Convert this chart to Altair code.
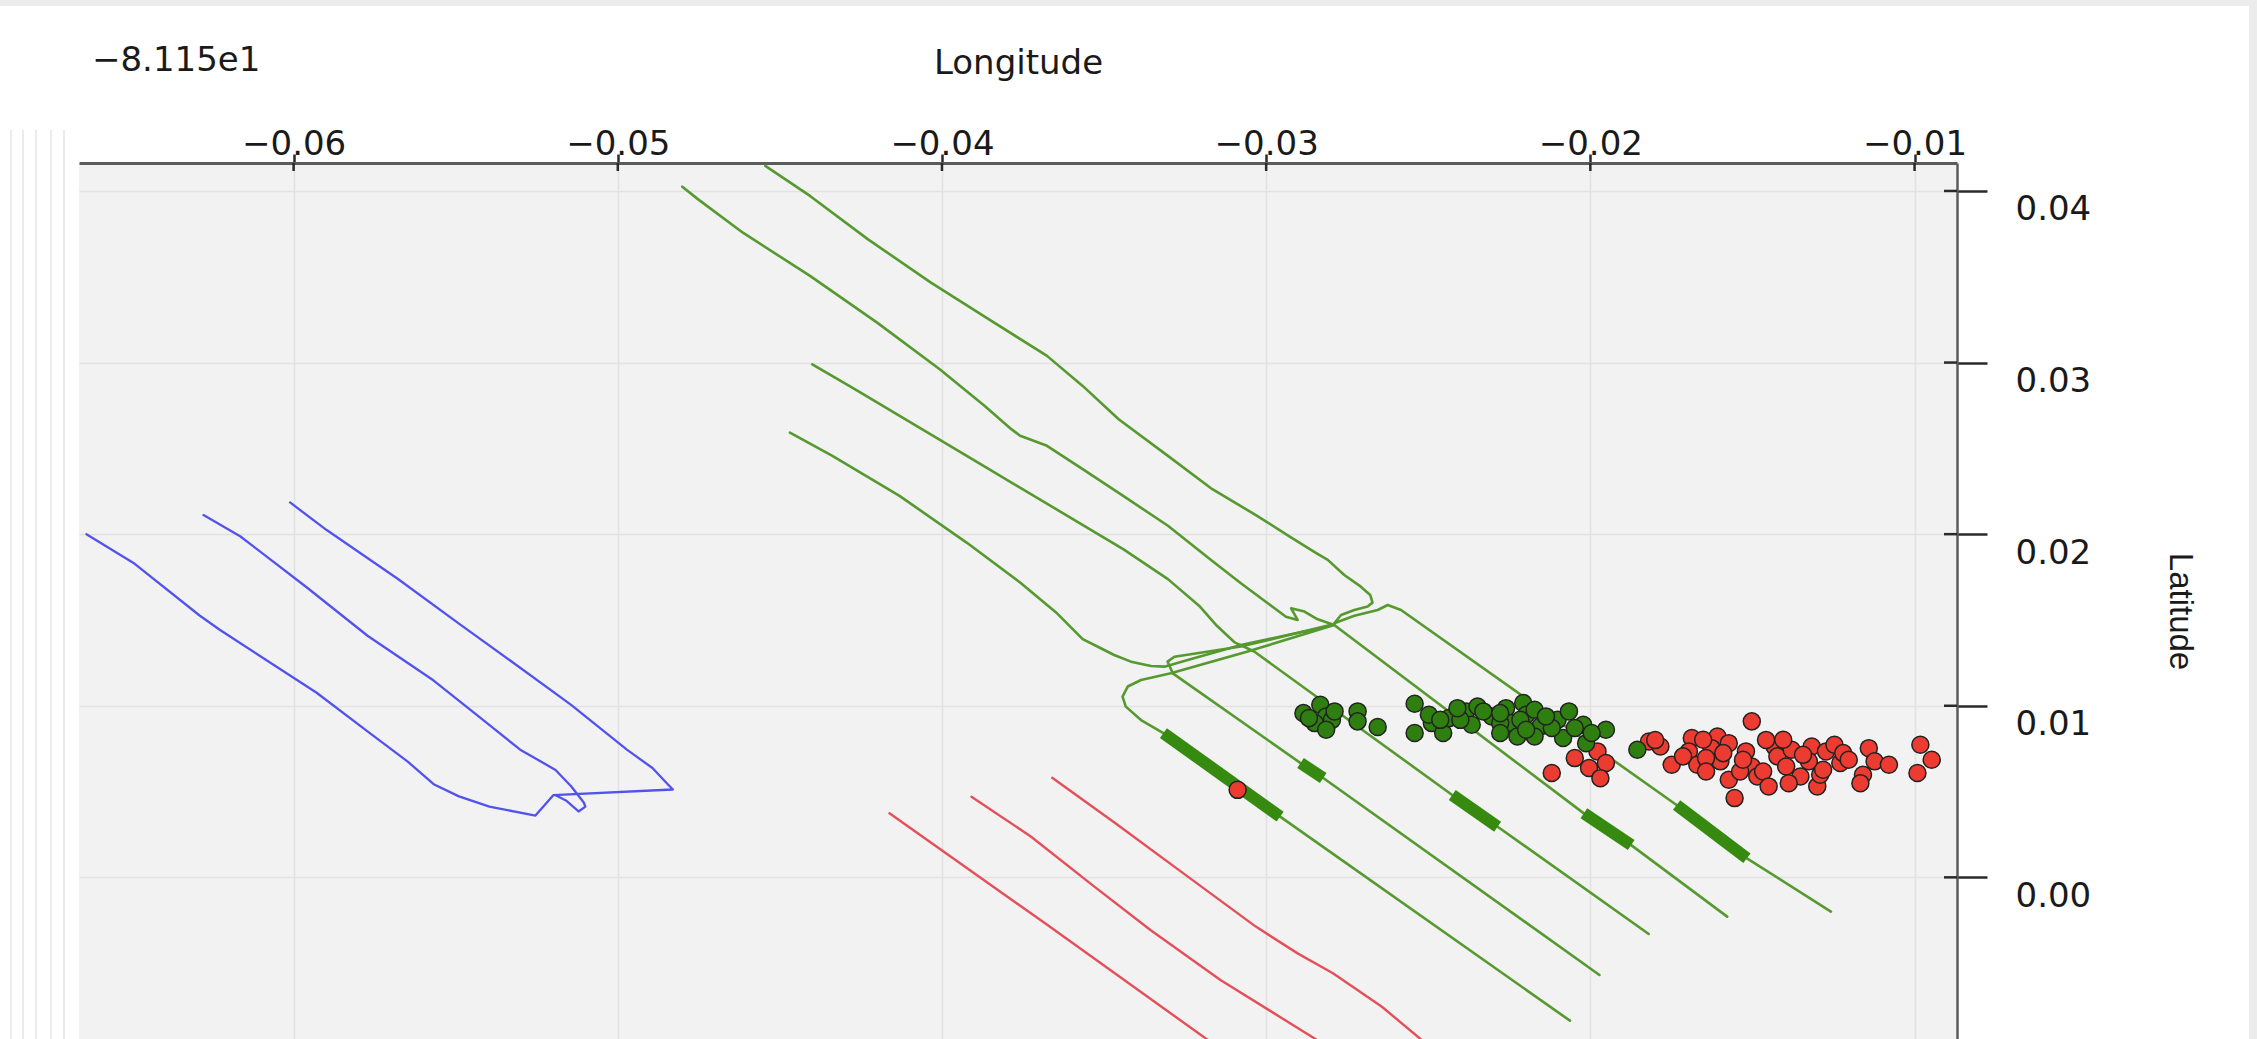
import altair as alt
import pandas as pd

# Longitudes are stored as offsets from -81.15 (shown as the "−8.115e1" offset label);
# latitudes are stored as displayed on the right axis.
OFFSET_LABEL = "\u22128.115e1"
X_TICKS = [-0.06, -0.05, -0.04, -0.03, -0.02, -0.01]
Y_TICKS = [0.00, 0.01, 0.02, 0.03, 0.04]

# --- blue tracks ---
blue_a_lon = [-0.06639, -0.06495, -0.06290, -0.06228, -0.06055, -0.05929, -0.05772, -0.05647,
              -0.05568, -0.05490, -0.05396, -0.05254, -0.05199, -0.04830, -0.04846, -0.04893,
              -0.04972, -0.05144, -0.05333, -0.05490, -0.05678, -0.05898, -0.06011]
blue_a_lat = [0.02000, 0.01834, 0.01526, 0.01443, 0.01230, 0.01076, 0.00851, 0.00673,
              0.00543, 0.00472, 0.00412, 0.00360, 0.00479, 0.00512, 0.00543, 0.00637,
              0.00744, 0.01005, 0.01265, 0.01479, 0.01739, 0.02024, 0.02185]
blue_b_lon = [-0.06278, -0.06165, -0.05961, -0.05772, -0.05568, -0.05411, -0.05301, -0.05192,
              -0.05144, -0.05105, -0.05100, -0.05121, -0.05160, -0.05192]
blue_b_lat = [0.02111, 0.01988, 0.01692, 0.01408, 0.01147, 0.00910, 0.00744, 0.00626,
              0.00531, 0.00436, 0.00412, 0.00384, 0.00448, 0.00479]

# --- red tracks ---
red_a_lon = [-0.04162, -0.03682, -0.03184, -0.03080]
red_a_lat = [0.00373, -0.00268, -0.00942, -0.01080]
red_b_lon = [-0.03909, -0.03725, -0.03530, -0.03357, -0.03141, -0.02848, -0.02760]
red_b_lat = [0.00470, 0.00237, -0.00054, -0.00307, -0.00598, -0.00942, -0.01060]
red_c_lon = [-0.03660, -0.03465, -0.03227, -0.03032, -0.02903, -0.02794, -0.02643, -0.02524, -0.02450]
red_c_lat = [0.00580, 0.00315, -0.00016, -0.00287, -0.00443, -0.00559, -0.00754, -0.00942, -0.01060]

# --- green tracks ---
green_a_lon = [-0.04545, -0.04407, -0.04228, -0.04034, -0.03855, -0.03676, -0.03566, -0.03455,
               -0.03303, -0.03166, -0.03028, -0.02931, -0.02848, -0.02810, -0.02759, -0.02708,
               -0.02679, -0.02672, -0.02687, -0.02728, -0.02769, -0.02790, -0.02728, -0.02656,
               -0.02625, -0.02584, -0.01734, -0.01517, -0.01258]
green_a_lat = [0.04146, 0.03971, 0.03718, 0.03466, 0.03252, 0.03039, 0.02864, 0.02670,
               0.02456, 0.02262, 0.02107, 0.01990, 0.01893, 0.01850, 0.01762, 0.01694,
               0.01646, 0.01601, 0.01578, 0.01558, 0.01529, 0.01481, 0.01524, 0.01558,
               0.01587, 0.01558, 0.00422, 0.00111, -0.00200]
green_b_lon = [-0.04801, -0.04752, -0.04614, -0.04407, -0.04200, -0.04007, -0.03869, -0.03786,
               -0.03759, -0.03676, -0.03566, -0.03441, -0.03303, -0.03170, -0.03078, -0.02995,
               -0.02939, -0.02903, -0.02923, -0.02882, -0.02841, -0.02790, -0.02020, -0.01874,
               -0.01578]
green_b_lat = [0.04025, 0.03951, 0.03757, 0.03505, 0.03233, 0.02961, 0.02748, 0.02612,
               0.02573, 0.02515, 0.02379, 0.02223, 0.02049, 0.01850, 0.01714, 0.01597,
               0.01519, 0.01500, 0.01568, 0.01549, 0.01504, 0.01471, 0.00373, 0.00188,
               -0.00229]
green_c_lon = [-0.04400, -0.04269, -0.04062, -0.03855, -0.03648, -0.03441, -0.03303, -0.03207,
               -0.03152, -0.03097, -0.03037, -0.02426, -0.02286, -0.01820]
green_c_lat = [0.02990, 0.02845, 0.02612, 0.02379, 0.02146, 0.01913, 0.01738, 0.01583,
               0.01466, 0.01369, 0.01316, 0.00480, 0.00295, -0.00330]
green_d_lon = [-0.04469, -0.04338, -0.04131, -0.03924, -0.03759, -0.03648, -0.03566, -0.03510,
               -0.03469, -0.03417, -0.03355, -0.03314, -0.03242, -0.03078, -0.02790, -0.03057,
               -0.03294, -0.03386, -0.03427, -0.03443, -0.03433, -0.03386, -0.03317, -0.02957,
               -0.02063]
green_d_lat = [0.02592, 0.02456, 0.02223, 0.01951, 0.01718, 0.01544, 0.01388, 0.01335,
               0.01296, 0.01257, 0.01232, 0.01228, 0.01267, 0.01354, 0.01471, 0.01316,
               0.01189, 0.01150, 0.01112, 0.01053, 0.00995, 0.00917, 0.00841, 0.00354,
               -0.00835]
green_e_lon = [-0.02790, -0.03078, -0.03283, -0.03304, -0.03288, -0.02894, -0.02824, -0.01972]
green_e_lat = [0.01476, 0.01345, 0.01286, 0.01257, 0.01189, 0.00666, 0.00579, -0.00569]

# bold stretches along the descending green tracks
bold_lon0 = [-0.03317, -0.02894, -0.02426, -0.02020, -0.01734]
bold_lat0 = [0.00841, 0.00666, 0.00480, 0.00373, 0.00422]
bold_lon1 = [-0.02957, -0.02824, -0.02286, -0.01874, -0.01517]
bold_lat1 = [0.00354, 0.00579, 0.00295, 0.00188, 0.00111]

# --- point observations ---
green_pts_lon = [-0.02885, -0.02833, -0.02815, -0.02850, -0.02797, -0.02815, -0.02718, -0.02718,
                 -0.02656, -0.02542, -0.02489, -0.02542, -0.02454, -0.02436, -0.02383, -0.02348,
                 -0.02366, -0.02304, -0.02260, -0.02207, -0.02198, -0.02242, -0.02172, -0.02154,
                 -0.02225, -0.02172, -0.02101, -0.02066, -0.02084, -0.02022, -0.02013, -0.01952,
                 -0.02119, -0.02278, -0.02401, -0.02330, -0.02498, -0.01855, -0.02868, -0.02789,
                 -0.02463, -0.02410, -0.02278, -0.02216, -0.02137, -0.02048, -0.01996, -0.02198,
                 -0.02278]
green_pts_lat = [0.00957, 0.01006, 0.00938, 0.00899, 0.00918, 0.00860, 0.00967, 0.00909,
                 0.00876, 0.01012, 0.00899, 0.00841, 0.00841, 0.00928, 0.00967, 0.00996,
                 0.00889, 0.00938, 0.00986, 0.01016, 0.00948, 0.00899, 0.00977, 0.00880,
                 0.00821, 0.00821, 0.00918, 0.00967, 0.00812, 0.00889, 0.00782, 0.00860,
                 0.00870, 0.00899, 0.00918, 0.00967, 0.00948, 0.00744, 0.00928, 0.00967,
                 0.00918, 0.00986, 0.00957, 0.00918, 0.00938, 0.00870, 0.00841, 0.00860,
                 0.00841]
red_pts_lon = [-0.03088, -0.02119, -0.02048, -0.01978, -0.02004, -0.01952, -0.01969, -0.01819,
               -0.01784, -0.01749, -0.01687, -0.01696, -0.01670, -0.01608, -0.01626, -0.01573,
               -0.01599, -0.01573, -0.01555, -0.01502, -0.01520, -0.01502, -0.01485, -0.01432,
               -0.01423, -0.01379, -0.01396, -0.01352, -0.01317, -0.01300, -0.01326, -0.01273,
               -0.01247, -0.01229, -0.01220, -0.01141, -0.01123, -0.01159, -0.01167, -0.01079,
               -0.00982, -0.00947, -0.00991, -0.01643, -0.01538, -0.01458, -0.01291, -0.01714,
               -0.01652, -0.01590, -0.01529, -0.01467, -0.01405, -0.01344, -0.01282, -0.01203,
               -0.01388, -0.01450, -0.01643, -0.01800]
red_pts_lat = [0.00510, 0.00608, 0.00695, 0.00734, 0.00637, 0.00666, 0.00578, 0.00792,
               0.00763, 0.00656, 0.00812, 0.00734, 0.00656, 0.00821, 0.00753, 0.00782,
               0.00676, 0.00569, 0.00462, 0.00909, 0.00734, 0.00646, 0.00588, 0.00763,
               0.00705, 0.00744, 0.00646, 0.00588, 0.00763, 0.00530, 0.00676, 0.00734,
               0.00773, 0.00666, 0.00724, 0.00753, 0.00676, 0.00598, 0.00549, 0.00656,
               0.00773, 0.00685, 0.00608, 0.00695, 0.00617, 0.00801, 0.00598, 0.00705,
               0.00802, 0.00724, 0.00685, 0.00617, 0.00802, 0.00714, 0.00627, 0.00685,
               0.00549, 0.00530, 0.00617, 0.00800]

# pale edges of the neighbouring 3-D panes, in pixels left of the plot
pane_edges_px = [-68, -56, -43, -28, -15]


def tracks(*pairs):
    rows = []
    for t, (lons, lats) in enumerate(pairs):
        for i, (x, y) in enumerate(zip(lons, lats)):
            rows.append({"lon": x, "lat": y, "track": t, "seq": i})
    return pd.DataFrame(rows)


W, H = 1878, 876
PAD_L, PAD_T = 79, 163
FONT = "DejaVu Sans"
INK = "#1a1a1a"

x_scale = alt.Scale(domain=[-0.06662, -0.00869], nice=False, zero=False)
y_scale = alt.Scale(domain=[-0.00942, 0.04163], nice=False, zero=False)

x_axis = alt.Axis(
    orient="top", values=X_TICKS, format=".2f", title="Longitude",
    titleFont=FONT, titleFontSize=34, titleFontWeight="normal", titleColor=INK,
    titleX=W / 2, titleY=-90, titleBaseline="alphabetic", titleAlign="center",
    labelFont=FONT, labelFontSize=34, labelColor=INK, labelBaseline="alphabetic",
    labelPadding=0, labelFlush=False, labelOverlap=False,
    tickSize=9, tickWidth=2.5, tickColor="#2a2a2a",
    domainColor="#5c5c5c", domainWidth=3,
    grid=True, gridColor="#e2e2e2", gridWidth=1.6,
)
y_axis = alt.Axis(
    orient="right", values=Y_TICKS, format=".2f", title="Latitude",
    titleFont="Liberation Sans", titleFontSize=33, titleFontWeight="normal", titleColor=INK,
    titleAngle=90, titleX=222, titleY=448, titleBaseline="middle", titleAlign="center",
    labelFont=FONT, labelFontSize=34, labelColor=INK, labelBaseline="alphabetic",
    labelOffset=29, labelPadding=28, labelFlush=False, labelOverlap=False,
    tickSize=30, tickWidth=2.5, tickColor="#2a2a2a",
    domainColor="#5c5c5c", domainWidth=2.5,
    grid=True, gridColor="#e2e2e2", gridWidth=1.6,
)


def X(field="lon"):
    return alt.X(f"{field}:Q", scale=x_scale, axis=x_axis)


def Y(field="lat"):
    return alt.Y(f"{field}:Q", scale=y_scale, axis=y_axis)


def line_layer(df, color, width):
    return alt.Chart(df).mark_line(color=color, strokeWidth=width, clip=True,
                                   strokeJoin="round", strokeCap="round").encode(
        x=X(), y=Y(), detail="track:N", order="seq:Q")


blue = line_layer(tracks((blue_a_lon, blue_a_lat), (blue_b_lon, blue_b_lat)), "#5252ee", 2.3)
red = line_layer(tracks((red_a_lon, red_a_lat), (red_b_lon, red_b_lat), (red_c_lon, red_c_lat)),
                 "#e4505a", 2.4)
green = line_layer(tracks((green_a_lon, green_a_lat), (green_b_lon, green_b_lat),
                          (green_c_lon, green_c_lat), (green_d_lon, green_d_lat),
                          (green_e_lon, green_e_lat)), "#55992f", 2.6)

bold = alt.Chart(pd.DataFrame({"lon": bold_lon0, "lat": bold_lat0,
                               "lon1": bold_lon1, "lat1": bold_lat1})).mark_rule(
    color="#368a10", strokeWidth=12, strokeCap="butt").encode(
    x=X(), y=Y(), x2="lon1:Q", y2="lat1:Q")

red_pts = alt.Chart(pd.DataFrame({"lon": red_pts_lon, "lat": red_pts_lat})).mark_circle(
    size=290, fill="#ec3b30", stroke="#222222", strokeWidth=1.5, opacity=1).encode(x=X(), y=Y())
green_pts = alt.Chart(pd.DataFrame({"lon": green_pts_lon, "lat": green_pts_lat})).mark_circle(
    size=290, fill="#2f7f10", stroke="#222222", strokeWidth=1.5, opacity=1).encode(x=X(), y=Y())

# inner halves of the tick marks (ticks cross the axis lines)
x_tick_in = alt.Chart(pd.DataFrame({"lon": X_TICKS})).mark_rule(
    color="#2a2a2a", strokeWidth=2.5).encode(x=X(), y=alt.value(0), y2=alt.value(8))
y_tick_in = alt.Chart(pd.DataFrame({"lat": Y_TICKS})).mark_rule(
    color="#2a2a2a", strokeWidth=2.5).encode(y=Y(), x=alt.value(W - 13), x2=alt.value(W))

panes = alt.Chart(pd.DataFrame({"px": pane_edges_px})).mark_rule(
    color="#e4e4e4", strokeWidth=1.5).encode(
    x=alt.X("px:Q", scale=None), y=alt.value(-33), y2=alt.value(H))

# thin grey border of the window along the top and right edges
frame = alt.Chart(pd.DataFrame({"x0": [-PAD_L, 2249 - PAD_L], "x1": [2257 - PAD_L, 2257 - PAD_L],
                                "y0": [-PAD_T, -PAD_T], "y1": [-PAD_T + 6, H]})).mark_rect(
    color="#ececec").encode(
    x=alt.X("x0:Q", scale=None), x2="x1:Q", y=alt.Y("y0:Q", scale=None), y2="y1:Q")

offset_text = alt.Chart(pd.DataFrame({"t": [OFFSET_LABEL]})).mark_text(
    align="left", baseline="alphabetic", font=FONT, fontSize=34, color=INK).encode(
    text="t:N", x=alt.value(13), y=alt.value(-92))

chart = alt.layer(
    frame, panes, blue, red, green, bold, red_pts, green_pts, x_tick_in, y_tick_in, offset_text
).properties(
    width=W, height=H, background="white",
    padding={"left": PAD_L, "top": PAD_T, "right": 2257 - PAD_L - W, "bottom": 0},
    autosize=alt.AutoSizeParams(type="none"),
).configure_view(fill="#f2f2f2", stroke=None)

chart.save("out.html", embed_options={"renderer": "svg", "actions": False})
